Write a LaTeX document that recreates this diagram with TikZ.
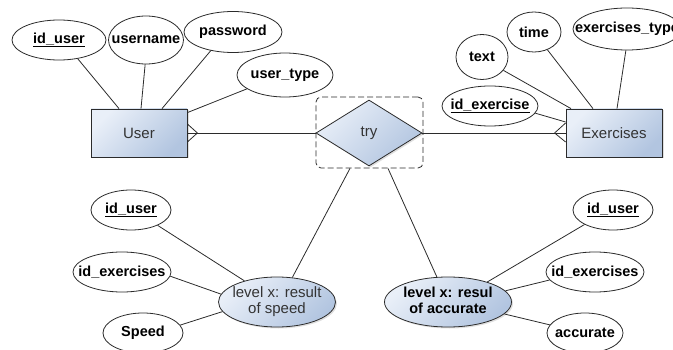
\documentclass[tikz,border=0pt]{standalone}
\usepackage{fontspec}
\setmainfont{Liberation Sans}
\usetikzlibrary{shapes.geometric,shadows}
\definecolor{lt}{HTML}{E9EFF8}
\definecolor{dk}{HTML}{B2C5E0}
\definecolor{ln}{HTML}{2B2B2B}
\definecolor{tx}{HTML}{333333}
\newcommand{\zb}[1]{\makebox[0pt]{#1}}
\newcommand{\zt}[1]{\makebox[0pt]{\begin{tabular}{@{}c@{}}#1\end{tabular}}}
\tikzset{
  attr/.style={ellipse, draw=ln, line width=0.8pt, fill=white, inner sep=0pt,
    font=\fontsize{14.5}{16}\selectfont\bfseries},
  bluefill/.style={top color=lt, bottom color=dk, shading angle=45,
    drop shadow={shadow xshift=1.5pt, shadow yshift=-1.5pt, opacity=0.25}},
  ent/.style={rectangle, draw=ln, line width=0.8pt, bluefill, minimum width=96pt,
    minimum height=48pt, inner sep=0pt, font=\fontsize{15}{17}\selectfont, text=tx},
  relbox/.style={diamond, draw=ln, line width=0.8pt, bluefill, minimum width=106pt,
    minimum height=66pt, inner sep=0pt, aspect=1.6, font=\fontsize{15}{17}\selectfont, text=tx},
  grpbox/.style={rectangle, draw=ln, line width=0.8pt, dash pattern=on 6pt off 3pt,
    rounded corners=5pt, minimum width=107pt, minimum height=71pt, inner sep=0pt},
  res/.style={ellipse, draw=ln, line width=0.8pt, bluefill, inner sep=0pt},
  conn/.style={draw=ln, line width=0.8pt},
}
\begin{document}
\begin{tikzpicture}[x=1pt,y=-1pt]
\useasboundingbox (0,0) rectangle (673,350);
\clip (0,0) rectangle (673,350);
% entities and relation
\node[ent] (user) at (139,133) {User};
\node[ent] (ex) at (614,133) {Exercises};
\node[grpbox] (grp) at (369.5,132.5) {};
\node[relbox] (try) at (369,133) {try};
% user attributes
\node[attr, minimum width=94pt, minimum height=40pt] (uid) at (59,40) {\zb{\underline{id\_user}}};
\node[attr, minimum width=75pt, minimum height=48pt] (uname) at (146,40) {\zb{username}};
\node[attr, minimum width=98pt, minimum height=41pt] (upw) at (233,32) {\zb{password}};
\node[attr, minimum width=96pt, minimum height=44pt] (utype) at (285,75) {\zb{user\_type}};
% exercise attributes
\node[attr, minimum width=96pt, minimum height=40pt] (eid) at (490,106) {\zb{\underline{id\_exercise}}};
\node[attr, minimum width=52pt, minimum height=45pt] (etext) at (482,57) {\zb{text}};
\node[attr, minimum width=54pt, minimum height=40pt] (etime) at (534,32) {\zb{time}};
\node[attr, minimum width=108pt, minimum height=42pt] (etype) at (627,29) {\zb{exercises\_type}};
% result entities
\node[res, minimum width=117pt, minimum height=50pt, font=\fontsize{15}{16.5}\selectfont, text=tx] (spd) at (277,302) {\zt{level x: result\\of speed}};
\node[res, minimum width=127pt, minimum height=50pt, font=\fontsize{14.5}{16}\selectfont\bfseries] (acc) at (448,302) {\zt{level x: resul\\of accurate}};
% speed attributes
\node[attr, minimum width=80pt, minimum height=40pt] (su) at (131,210) {\zb{\underline{id\_user}}};
\node[attr, minimum width=98pt, minimum height=40pt] (se) at (122,272) {\zb{id\_exercises}};
\node[attr, minimum width=80pt, minimum height=40pt] (ss) at (143,333) {\zb{Speed}};
% accurate attributes
\node[attr, minimum width=80pt, minimum height=40pt] (au) at (613,210) {\zb{\underline{id\_user}}};
\node[attr, minimum width=98pt, minimum height=40pt] (ae) at (595,272) {\zb{id\_exercises}};
\node[attr, minimum width=76pt, minimum height=40pt] (aa) at (585,333) {\zb{accurate}};
% connectors: user
\draw[conn] (uid.-45) -- ([xshift=-20pt]user.north);
\draw[conn] (uname.-92) -- ([xshift=2pt]user.north);
\draw[conn] (upw.-140) -- ([xshift=23pt]user.north);
\draw[conn] (utype.200) -- ([yshift=-4pt]user.north east);
% connectors: exercises
\draw[conn] (eid.-9) -- ([yshift=11pt]ex.west);
\draw[conn] (etext.-32) -- ([xshift=-43pt]ex.north);
\draw[conn] (etime.-53) -- ([xshift=-21pt]ex.north);
\draw[conn] (etype.-93) -- ([xshift=3pt]ex.north);
% relation lines with crow's feet
\draw[conn] (user.east) -- (try.west);
\draw[conn] ([yshift=9pt]user.east) -- ([xshift=10pt]user.east) -- ([yshift=-9pt]user.east);
\draw[conn] (try.east) -- (ex.west);
\draw[conn] ([yshift=10pt]ex.west) -- ([xshift=-11pt]ex.west) -- ([yshift=-9pt]ex.west);
% group to results
\draw[conn] ([xshift=-19.5pt]grp.south) -- (spd.58);
\draw[conn] ([xshift=18.5pt]grp.south) -- (acc.114);
% speed attributes
\draw[conn] (su.-30) -- (spd.147);
\draw[conn] (se.-5) -- (spd.172);
\draw[conn] (ss.12) -- (spd.190);
% accurate attributes
\draw[conn] (au.-153) -- (acc.27);
\draw[conn] (ae.190) -- (acc.11);
\draw[conn] (aa.167) -- (acc.-12);
\end{tikzpicture}
\end{document}
